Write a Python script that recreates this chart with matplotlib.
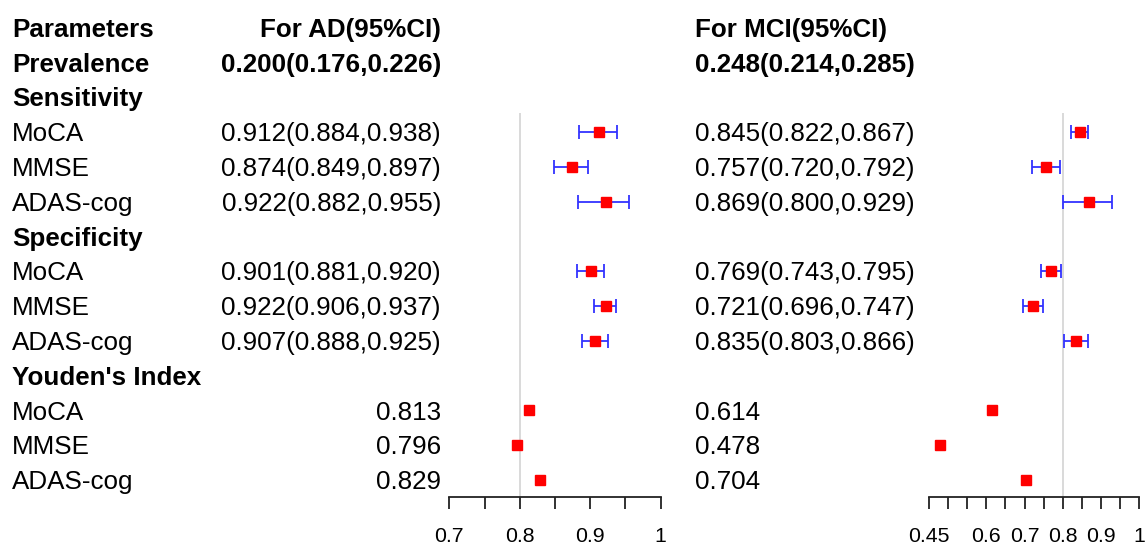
import matplotlib
matplotlib.use("Agg")
import matplotlib.pyplot as plt
from matplotlib.ticker import FixedLocator, FixedFormatter

plt.rcParams['font.family'] = ['Liberation Sans', 'DejaVu Sans']

# ---------------- data ----------------
tests = ["MoCA", "MMSE", "ADAS-cog"]

ad_prev = (0.200, 0.176, 0.226)
mci_prev = (0.248, 0.214, 0.285)

ad_sens = [0.912, 0.874, 0.922]
ad_sens_lo = [0.884, 0.849, 0.882]
ad_sens_hi = [0.938, 0.897, 0.955]
ad_spec = [0.901, 0.922, 0.907]
ad_spec_lo = [0.881, 0.906, 0.888]
ad_spec_hi = [0.920, 0.937, 0.925]
ad_youden = [0.813, 0.796, 0.829]

mci_sens = [0.845, 0.757, 0.869]
mci_sens_lo = [0.822, 0.720, 0.800]
mci_sens_hi = [0.867, 0.792, 0.929]
mci_spec = [0.769, 0.721, 0.835]
mci_spec_lo = [0.743, 0.696, 0.803]
mci_spec_hi = [0.795, 0.747, 0.866]
mci_youden = [0.614, 0.478, 0.704]

ad_ticks = [0.7, 0.75, 0.8, 0.85, 0.9, 0.95, 1.0]
ad_ticklabels = ["0.7", "", "0.8", "", "0.9", "", "1"]
mci_ticks = [0.45, 0.5, 0.55, 0.6, 0.65, 0.7, 0.75, 0.8, 0.85, 0.9, 0.95, 1.0]
mci_ticklabels = ["0.45", "", "", "0.6", "", "0.7", "", "0.8", "", "0.9", "", "1"]
ref_value = 0.8

# ---------------- layout ----------------
W, H = 1146, 547
fig = plt.figure(figsize=(W / 100, H / 100), dpi=100)
ROW0, ROWH = 27.5, 34.8   # px: centre of row 0, row height
AXIS_Y = 497.0            # px of x-axis line
FS = 18.7
TFS = 15.3

def row_px(i):
    return ROW0 + ROWH * i

def ftext(xpx, row, s, ha='left', bold=False):
    fig.text(xpx / W, 1 - (row_px(row) + 9.4) / H, s, ha=ha, va='baseline',
             fontsize=FS, fontweight='bold' if bold else 'normal', color='black')

def fmt(v, lo, hi):
    return f"{v:.3f}({lo:.3f},{hi:.3f})"

X_LAB, X_AD, X_MCI = 12, 441, 695

ftext(X_LAB, 0, "Parameters", bold=True)
ftext(X_AD, 0, "For AD(95%CI)", ha='right', bold=True)
ftext(X_MCI, 0, "For MCI(95%CI)", bold=True)
ftext(X_LAB, 1, "Prevalence", bold=True)
ftext(X_AD, 1, fmt(*ad_prev), ha='right', bold=True)
ftext(X_MCI, 1, fmt(*mci_prev), bold=True)
ftext(X_LAB, 2, "Sensitivity", bold=True)
ftext(X_LAB, 6, "Specificity", bold=True)
ftext(X_LAB, 10, "Youden's Index", bold=True)

sens_rows = [3, 4, 5]
spec_rows = [7, 8, 9]
you_rows = [11, 12, 13]
for k, t in enumerate(tests):
    ftext(X_LAB, sens_rows[k], t)
    ftext(X_LAB, spec_rows[k], t)
    ftext(X_LAB, you_rows[k], t)
    ftext(X_AD, sens_rows[k], fmt(ad_sens[k], ad_sens_lo[k], ad_sens_hi[k]), ha='right')
    ftext(X_AD, spec_rows[k], fmt(ad_spec[k], ad_spec_lo[k], ad_spec_hi[k]), ha='right')
    ftext(X_AD, you_rows[k], f"{ad_youden[k]:.3f}", ha='right')
    ftext(X_MCI, sens_rows[k], fmt(mci_sens[k], mci_sens_lo[k], mci_sens_hi[k]))
    ftext(X_MCI, spec_rows[k], fmt(mci_spec[k], mci_spec_lo[k], mci_spec_hi[k]))
    ftext(X_MCI, you_rows[k], f"{mci_youden[k]:.3f}")

y_bottom = (AXIS_Y - ROW0) / ROWH
y_top = (0 - ROW0) / ROWH
ref_top = 2.46

def panel(x0, x1, xlim, ticks, ticklabels, sens, slo, shi, spec, plo, phi, you):
    ax = fig.add_axes([x0 / W, (H - AXIS_Y) / H, (x1 - x0) / W, AXIS_Y / H])
    ax.set_xlim(*xlim)
    ax.set_ylim(y_bottom, y_top)
    ax.patch.set_alpha(0)
    for s in ['top', 'left', 'right']:
        ax.spines[s].set_visible(False)
    ax.spines['bottom'].set_linewidth(1.3)
    ax.spines['bottom'].set_color('#222222')
    ax.set_yticks([])
    ax.xaxis.set_major_locator(FixedLocator(ticks))
    ax.xaxis.set_major_formatter(FixedFormatter(ticklabels))
    ax.tick_params(axis='x', length=8.7, width=1.3, color='#222222',
                   labelsize=TFS, pad=13)
    ax.vlines(ref_value, ref_top, y_bottom, color='#d9d9d9', lw=1.4, zorder=1)
    for vals, lo, hi, rows in [(sens, slo, shi, sens_rows), (spec, plo, phi, spec_rows)]:
        err = [[v - l for v, l in zip(vals, lo)], [h - v for v, h in zip(vals, hi)]]
        ax.errorbar(vals, rows, xerr=err, fmt='none', ecolor='#3333ff',
                    elinewidth=1.3, capsize=5, capthick=1.3, zorder=2)
        ax.plot(vals, rows, 's', color='red', markersize=7.3, zorder=3)
    ax.plot(you, you_rows, 's', color='red', markersize=7.3, zorder=3)
    return ax

panel(449.3, 660.7, (0.7, 1.0), ad_ticks, ad_ticklabels,
      ad_sens, ad_sens_lo, ad_sens_hi, ad_spec, ad_spec_lo, ad_spec_hi, ad_youden)
panel(929.0, 1139.3, (0.45, 1.0), mci_ticks, mci_ticklabels,
      mci_sens, mci_sens_lo, mci_sens_hi, mci_spec, mci_spec_lo, mci_spec_hi, mci_youden)

fig.savefig("out.png", dpi=100)
